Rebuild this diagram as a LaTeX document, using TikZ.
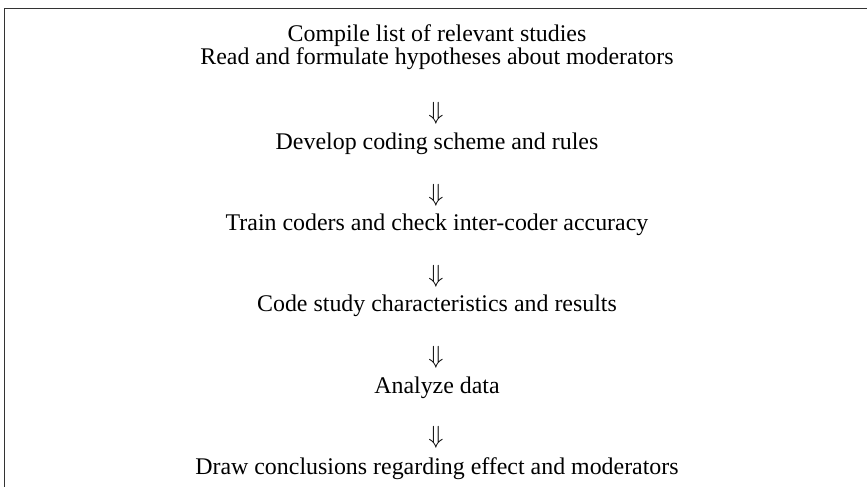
\documentclass[tikz,border=0pt]{standalone}
\usepackage{fontspec}
\setmainfont{Liberation Serif}
\begin{document}
\begin{tikzpicture}[x=1bp,y=-1bp,
  steptext/.style={anchor=base,inner sep=0pt,font=\fontsize{23.9bp}{21.5bp}\selectfont},
  flowarrow/.style={anchor=center,inner sep=0pt,font=\fontsize{23bp}{26bp}\selectfont},
  frameline/.style={draw=black!80,line width=1.4bp}]
\useasboundingbox (0,0) rectangle (867,487);
\coordinate (tl) at (4.5,8.5);
\coordinate (tr) at (867,8.5);
\coordinate (bl) at (4.5,487);
\draw[frameline] (tr) -- (tl) -- (bl);
\node[steptext,align=center] (s1) at (437,64.5) {Compile list of relevant studies\\Read and formulate hypotheses about moderators};
\node[flowarrow] (a1) at (436,113.5) {$\Downarrow$};
\node[steptext] (s2) at (437,150) {Develop coding scheme and rules};
\node[flowarrow] (a2) at (436,195) {$\Downarrow$};
\node[steptext] (s3) at (437,231) {Train coders and check inter-coder accuracy};
\node[flowarrow] (a3) at (436,276) {$\Downarrow$};
\node[steptext] (s4) at (437,312) {Code study characteristics and results};
\node[flowarrow] (a4) at (436,357) {$\Downarrow$};
\node[steptext] (s5) at (437,393) {Analyze data};
\node[flowarrow] (a5) at (436,437.5) {$\Downarrow$};
\node[steptext] (s6) at (437,474) {Draw conclusions regarding effect and moderators};
\end{tikzpicture}
\end{document}
